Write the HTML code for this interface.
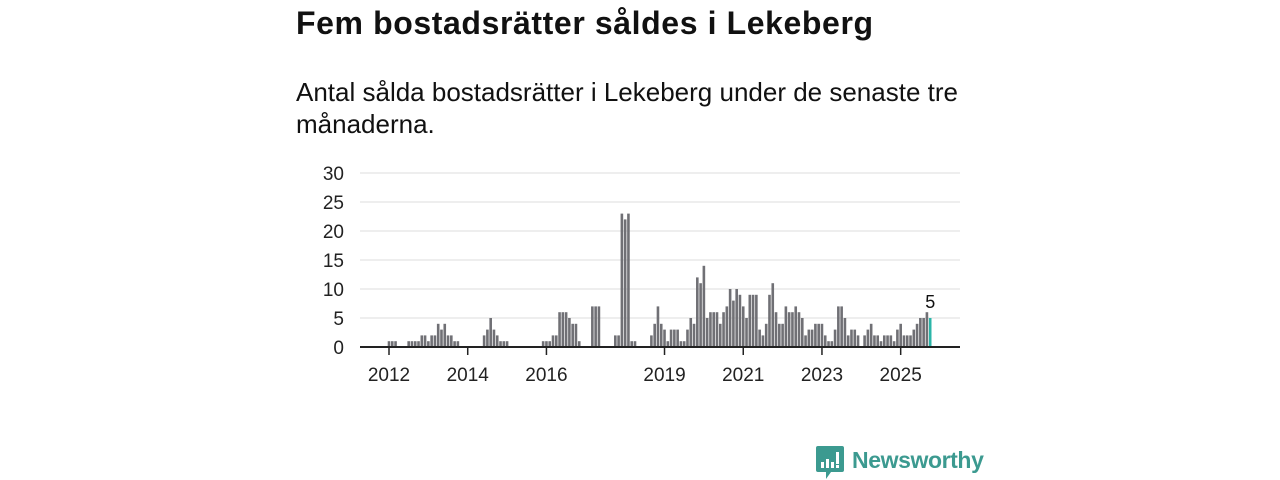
<!DOCTYPE html>
<html><head><meta charset="utf-8">
<style>
body{margin:0;width:1280px;height:480px;background:#fff;overflow:hidden;font-family:"Liberation Sans",sans-serif;color:#111;position:relative}
h1{position:absolute;left:296px;top:5px;margin:0;font-size:32px;font-weight:bold;letter-spacing:0.6px}
p.sub{position:absolute;left:296px;top:76px;margin:0;font-size:26px;line-height:32px;width:760px}
svg{position:absolute;left:0;top:0}
</style></head><body>
<h1>Fem bostadsrätter såldes i Lekeberg</h1>
<p class="sub">Antal sålda bostadsrätter i Lekeberg under de senaste tre<br>månaderna.</p>
<svg id="chart" width="1280" height="480"></svg>
<script>
const startYear = 2012;
const values = [1,1,1,0,0,0,1,1,1,
1,2,2,1,2,2,4,3,4,2,2,1,1,
0,0,0,0,0,0,0,
2,3,5,3,2,1,1,1,
0,0,0,0,0,0,0,0,0,0,
1,1,1,2,2,6,6,6,5,4,4,1,
0,0,0,
7,7,7,
0,0,0,0,
2,2,23,22,23,1,1,
0,0,0,0,
2,4,7,4,3,1,3,3,3,1,1,3,5,4,12,11,14,5,6,6,6,4,6,7,10,8,10,9,7,5,9,9,9,3,2,4,9,11,6,
4,4,7,6,6,7,6,5,2,3,3,4,4,4,2,1,1,3,7,7,5,2,3,3,2,0,2,3,4,2,2,1,2,2,2,1,3,4,2,2,2,3,4,5,5,6,5];
const yTicks = [0,5,10,15,20,25,30];
const xTickYears = [2012,2014,2016,2019,2021,2023,2025];

const NS="http://www.w3.org/2000/svg";
const svg=document.getElementById('chart');
const x0=360,x1=960,yBase=347,yTop=173,yMax=30;
const pxPerMonth=3.28, xOrigin=389;
const xs=m=>xOrigin+m*pxPerMonth;
const ys=v=>yBase-(v/yMax)*(yBase-yTop);
function mk(tag,attrs){const e=document.createElementNS(NS,tag);for(const k in attrs)e.setAttribute(k,attrs[k]);svg.appendChild(e);return e;}
yTicks.forEach(t=>{
  const g=mk('line',{x1:x0,x2:x1,y1:ys(t),y2:ys(t),stroke:'#dcdcdc','stroke-width':1});
  
  
  const l=mk('text',{x:344,y:ys(t)+7,'text-anchor':'end','font-size':19,fill:'#222','font-family':'Liberation Sans, sans-serif'});
  l.textContent=t;
  
  
});
values.forEach((v,i)=>{
  if(v<=0)return;
  const last=i===values.length-1;
  const r=mk('rect',{x:xs(i)-1.3,y:ys(v),width:2.6,height:yBase-ys(v),fill:last?'#2bb5a8':'#707075'});
  
  
});
const li=values.length-1;
const vl=mk('text',{x:xs(li),y:ys(values[li])-10,'text-anchor':'middle','font-size':18,fill:'#111','font-family':'Liberation Sans, sans-serif'});
vl.textContent=values[li];


const ax=mk('line',{x1:x0,x2:x1,y1:yBase,y2:yBase,stroke:'#222','stroke-width':2});


xTickYears.forEach(yr=>{
  const xx=xs((yr-startYear)*12);
  const t=mk('line',{x1:xx,x2:xx,y1:yBase,y2:yBase+8,stroke:'#222','stroke-width':1.5});
  
  
  const l=mk('text',{x:xx,y:381,'text-anchor':'middle','font-size':19,fill:'#222','font-family':'Liberation Sans, sans-serif'});
  l.textContent=yr;
  
  
});
</script>
<div style="position:absolute;left:816px;top:446px;height:34px;">
<svg width="28" height="34" style="position:absolute;left:0;top:0">
<path d="M2 0 H26 A2 2 0 0 1 28 2 V24 A2 2 0 0 1 26 26 H15 L10 33 L10 26 H2 A2 2 0 0 1 0 24 V2 A2 2 0 0 1 2 0Z" fill="#3c9a90"/>
<rect x="5" y="16" width="3" height="6" fill="#fff"/><rect x="10" y="13" width="3" height="9" fill="#fff"/><rect x="15" y="16" width="3" height="6" fill="#fff"/><rect x="20" y="6" width="3" height="12" fill="#fff"/><rect x="20" y="19" width="3" height="3" fill="#fff"/>
</svg>
<span style="position:absolute;left:36px;top:1px;font-size:23px;font-weight:bold;color:#3c9a90;white-space:nowrap;letter-spacing:-0.4px">Newsworthy</span>
</div>
</body></html>
